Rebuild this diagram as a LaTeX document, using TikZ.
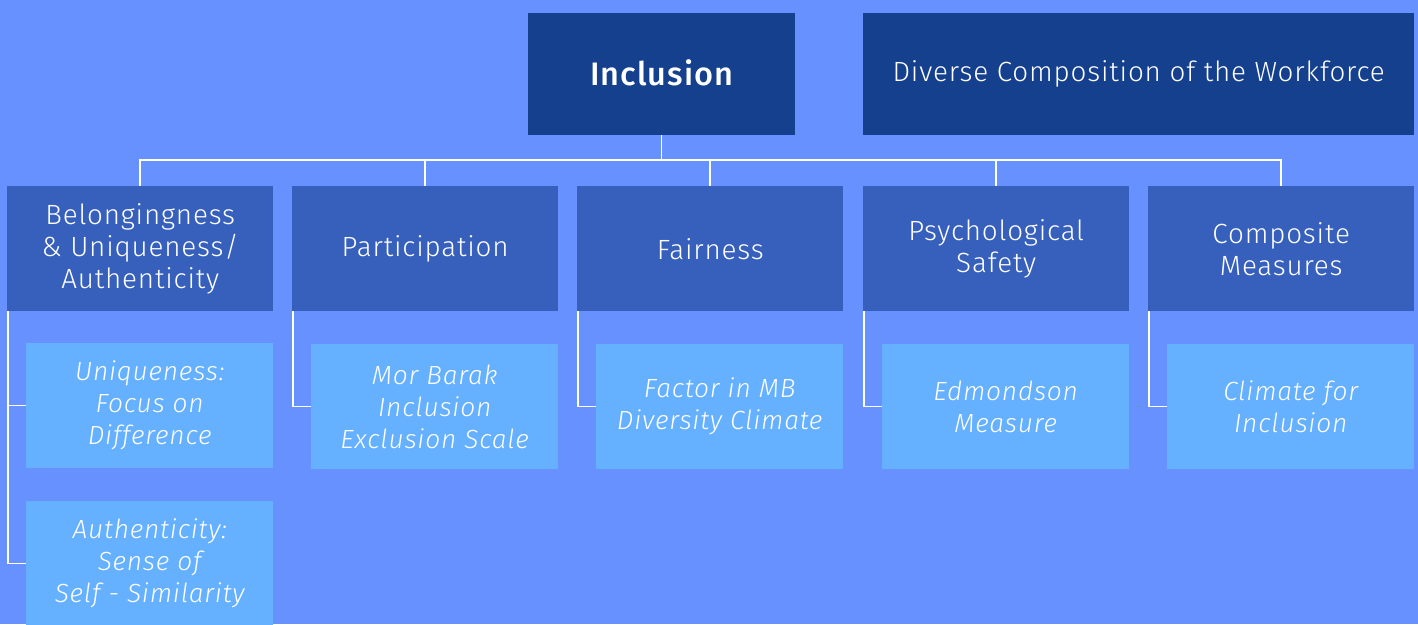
\documentclass[tikz,border=0pt]{standalone}
\usepackage{fontspec}
\setmainfont{Fira Sans Light}[ItalicFont={Fira Sans Light Italic},BoldFont={Fira Sans Medium},LetterSpace=3]
\definecolor{bg}{RGB}{102,145,255}
\definecolor{topc}{RGB}{21,64,142}
\definecolor{midc}{RGB}{54,96,188}
\definecolor{leafc}{RGB}{101,176,255}
\begin{document}
\begin{tikzpicture}[x=1pt,y=-1pt,
  base/.style={anchor=north west,inner sep=0pt,align=center,text=white,font=\fontsize{27.8}{32}\selectfont},
  topbox/.style={base,fill=topc,minimum height=122pt},
  midbox/.style={base,fill=midc,minimum width=266pt,minimum height=125pt},
  leafbox/.style={base,fill=leafc,minimum width=247pt,minimum height=125pt,font=\fontsize{26.3}{32}\selectfont\itshape},
  conn/.style={draw=white,line width=1.5pt}]
\fill[bg] (0,0) rectangle (1418,624);
\useasboundingbox (0,0) rectangle (1418,624);
\node[topbox,minimum width=267pt,font=\fontsize{32.5}{36}\selectfont\bfseries] (inc) at (528,13) {\raisebox{3pt}{Inclusion}};
\node[topbox,minimum width=551pt] (div) at (863,13) {Diverse Composition of the Workforce};
\node[midbox] (b1) at (7,186) {Belongingness\\ \& Uniqueness/\\Authenticity};
\node[midbox] (b2) at (292,186) {\raisebox{-3pt}{Participation}};
\node[midbox] (b3) at (577,186) {Fairness};
\node[midbox] (b4) at (863,186) {Psychological\\Safety};
\node[midbox] (b5) at (1148,186) {Composite\\Measures};
\node[leafbox] (l1) at (26,343) {Uniqueness:\\Focus on\\Difference};
\node[leafbox] (l1b) at (26,501) {Authenticity:\\Sense of\\Self - Similarity};
\node[leafbox] (l2) at (311,344) {Mor Barak\\Inclusion\\Exclusion Scale};
\node[leafbox] (l3) at (596,344) {Factor in MB\\Diversity Climate};
\node[leafbox] (l4) at (882,344) {Edmondson\\Measure};
\node[leafbox] (l5) at (1167,344) {Climate for\\Inclusion};
\coordinate (bus) at (0,160);
\draw[conn] (inc.south) -- (inc.south |- bus);
\draw[conn] (b1.north) -- (b1.north |- bus) -- (b5.north |- bus) -- (b5.north);
\foreach \b in {b2,b3,b4} \draw[conn] (\b.north) -- (\b.north |- bus);
\draw[conn] ([xshift=1pt]b1.south west) |- (l1b.west);
\draw[conn] ([xshift=1pt]b1.south west) |- (l1.west);
\draw[conn] ([xshift=1pt]b2.south west) |- (l2.west);
\draw[conn] ([xshift=1pt]b3.south west) |- (l3.west);
\draw[conn] ([xshift=1pt]b4.south west) |- (l4.west);
\draw[conn] ([xshift=1pt]b5.south west) |- (l5.west);
\end{tikzpicture}
\end{document}
